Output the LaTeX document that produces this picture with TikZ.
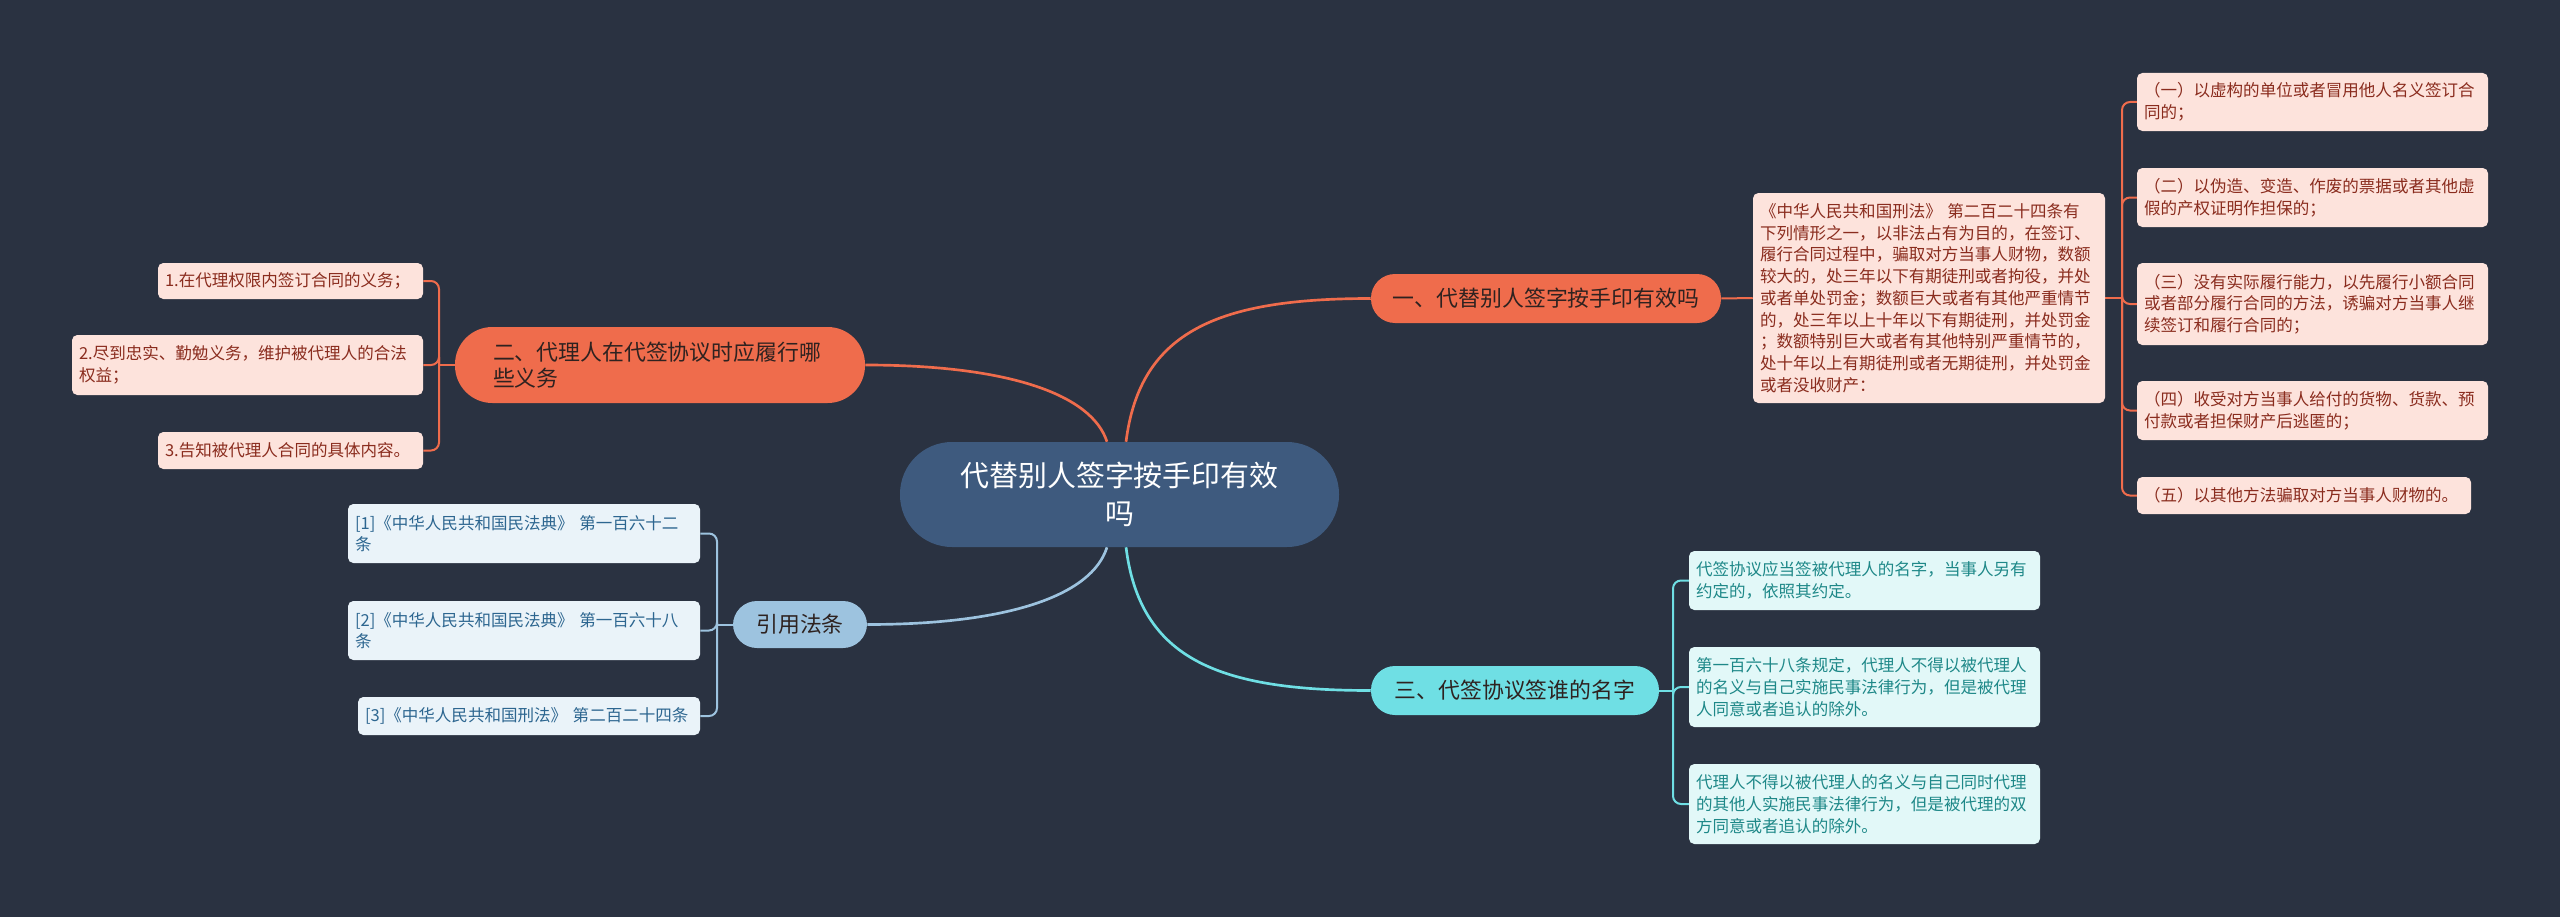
\documentclass[tikz,border=0pt]{standalone}
\usepackage{fontspec}
\setmainfont{Noto Sans CJK SC}
\usetikzlibrary{calc}
\definecolor{bg}{HTML}{2A3241}
\definecolor{cmain}{HTML}{3E5A7E}
\definecolor{corange}{HTML}{EF6C4C}
\definecolor{ctopictext}{HTML}{2E2220}
\definecolor{cpink}{HTML}{FDE3DC}
\definecolor{cpinktext}{HTML}{8A2C1E}
\definecolor{cblue}{HTML}{9DC3DF}
\definecolor{cbluefill}{HTML}{EAF3F9}
\definecolor{cbluetext}{HTML}{2D6690}
\definecolor{ccyan}{HTML}{6FDFE4}
\definecolor{ccyanfill}{HTML}{E2F8F8}
\definecolor{ccyantext}{HTML}{1E8888}
\pgfdeclarelayer{bgfill}
\pgfdeclarelayer{lines}
\pgfsetlayers{bgfill,lines,main}
\tikzset{
  mainnode/.style={inner sep=0pt, align=center, text=white, fill=cmain,
    rounded corners=39pt, minimum width=329.25pt, minimum height=78.75pt,
    font=\fontsize{21.7pt}{28pt}\selectfont},
  topic/.style={inner sep=0pt, align=center, minimum height=36.75pt,
    rounded corners=18pt, text=ctopictext,
    font=\fontsize{16.4pt}{19.5pt}\selectfont},
  leaf/.style={inner xsep=5.25pt, inner ysep=0pt, align=left, rounded corners=4pt,
    font=\fontsize{12.4pt}{16.3pt}\selectfont},
  pinkleaf/.style={leaf, fill=cpink, text=cpinktext},
  blueleaf/.style={leaf, fill=cbluefill, text=cbluetext},
  cyanleaf/.style={leaf, fill=ccyanfill, text=ccyantext},
  mainline/.style={draw=#1, line width=2pt},
  subline/.style={draw=#1, line width=1.5pt, rounded corners=6pt}
}
\begin{document}
\begin{tikzpicture}[x=0.75pt,y=-0.75pt]
\begin{pgfonlayer}{bgfill}
\fill[bg] (0,0) rectangle (2560,917);
\end{pgfonlayer}
\useasboundingbox (0,0) rectangle (2560,917);

% central
\node[mainnode] (central) at (1119.5,494.5) {代替别人签字按手印有效\\吗};

% branch 1
\node[topic, fill=corange, minimum width=262.5pt] (b1) at (1546,298.5) {一、代替别人签字按手印有效吗};
\node[pinkleaf, text width=253.5pt, minimum height=157.5pt] (b1c) at (1929,298)
 {《中华人民共和国刑法》~第二百二十四条有\\下列情形之一，以非法占有为目的，在签订、\\履行合同过程中，骗取对方当事人财物，数额\\较大的，处三年以下有期徒刑或者拘役，并处\\或者单处罚金；数额巨大或者有其他严重情节\\的，处三年以上十年以下有期徒刑，并处罚金\\；数额特别巨大或者有其他特别严重情节的，\\处十年以上有期徒刑或者无期徒刑，并处罚金\\或者没收财产：};
\node[pinkleaf, text width=252.75pt, minimum height=43.5pt] (s1) at (2312.5,102)
 {（一）以虚构的单位或者冒用他人名义签订合\\同的；};
\node[pinkleaf, text width=252.75pt, minimum height=44.25pt] (s2) at (2312.5,197.5)
 {（二）以伪造、变造、作废的票据或者其他虚\\假的产权证明作担保的；};
\node[pinkleaf, text width=252.75pt, minimum height=61.5pt] (s3) at (2312.5,304)
 {（三）没有实际履行能力，以先履行小额合同\\或者部分履行合同的方法，诱骗对方当事人继\\续签订和履行合同的；};
\node[pinkleaf, text width=252.75pt, minimum height=44.25pt] (s4) at (2312.5,410.5)
 {（四）收受对方当事人给付的货物、货款、预\\付款或者担保财产后逃匿的；};
\node[pinkleaf, text width=240pt, minimum height=27.75pt] (s5) at (2304,495.5)
 {（五）以其他方法骗取对方当事人财物的。};

% branch 2
\node[topic, fill=corange, align=left, inner xsep=28.5pt, text width=250.5pt,
      minimum height=57pt, rounded corners=28pt] (b2) at (660,365)
 {二、代理人在代签协议时应履行哪\\些义务};
\node[pinkleaf, text width=188.25pt, minimum height=27pt] (d1) at (290.5,281)
 {1.在代理权限内签订合同的义务；};
\node[pinkleaf, text width=252.75pt, minimum height=45pt] (d2) at (247.5,365)
 {2.尽到忠实、勤勉义务，维护被代理人的合法\\权益；};
\node[pinkleaf, text width=188.25pt, minimum height=27.75pt] (d3) at (290.5,450.5)
 {3.告知被代理人合同的具体内容。};

% branch 3
\node[topic, fill=cblue, minimum width=100.5pt, minimum height=35.25pt] (b3) at (800,624.5) {引用法条};
\node[blueleaf, text width=253.5pt, minimum height=44.25pt] (r1) at (524,533.5)
 {[1]《中华人民共和国民法典》~第一百六十二\\条};
\node[blueleaf, text width=253.5pt, minimum height=44.25pt] (r2) at (524,630.5)
 {[2]《中华人民共和国民法典》~第一百六十八\\条};
\node[blueleaf, text width=246pt, minimum height=28.5pt] (r3) at (529,716)
 {[3]《中华人民共和国刑法》~第二百二十四条};

% branch 4
\node[topic, fill=ccyan, minimum width=216pt] (b4) at (1515,690.5) {三、代签协议签谁的名字};
\node[cyanleaf, text width=252.75pt, minimum height=44.25pt] (t1) at (1864.5,580.5)
 {代签协议应当签被代理人的名字，当事人另有\\约定的，依照其约定。};
\node[cyanleaf, text width=252.75pt, minimum height=60pt] (t2) at (1864.5,687)
 {第一百六十八条规定，代理人不得以被代理人\\的名义与自己实施民事法律行为，但是被代理\\人同意或者追认的除外。};
\node[cyanleaf, text width=252.75pt, minimum height=60pt] (t3) at (1864.5,804)
 {代理人不得以被代理人的名义与自己同时代理\\的其他人实施民事法律行为，但是被代理的双\\方同意或者追认的除外。};

% spines
\coordinate (sA) at (2122,0);
\coordinate (sB) at (439,0);
\coordinate (sC) at (717,0);
\coordinate (sD) at (1673,0);

\begin{pgfonlayer}{lines}
\draw[mainline=corange] ([xshift=4.9pt]central.north) .. controls (1140,330) and (1220,298.5) .. (b1.west);
\draw[mainline=corange] ([xshift=-9.4pt]central.north) .. controls (1092,395) and (1010,365) .. (b2.east);
\draw[mainline=cblue] ([xshift=-9.4pt]central.south) .. controls (1092,595) and (1010,624.5) .. (b3.east);
\draw[mainline=ccyan] ([xshift=4.9pt]central.south) .. controls (1140,660) and (1220,690.5) .. (b4.west);

\draw[subline=corange] (b1.east) -- (b1c.west);
\draw[subline=corange] (b1c.east) -- (b1c.east -| sA);
\foreach \n in {s1,s2,s3,s4,s5}
  \draw[subline=corange] (b1c.east -| sA) |- (\n.west);

\draw[subline=corange] (b2.west) -- (b2.west -| sB);
\foreach \n in {d1,d2,d3}
  \draw[subline=corange] (b2.west -| sB) |- (\n.east);

\draw[subline=cblue] (b3.west) -- (b3.west -| sC);
\foreach \n in {r1,r2,r3}
  \draw[subline=cblue] (b3.west -| sC) |- (\n.east);

\draw[subline=ccyan] (b4.east) -- (b4.east -| sD);
\foreach \n in {t1,t2,t3}
  \draw[subline=ccyan] (b4.east -| sD) |- (\n.west);
\end{pgfonlayer}
\end{tikzpicture}
\end{document}
